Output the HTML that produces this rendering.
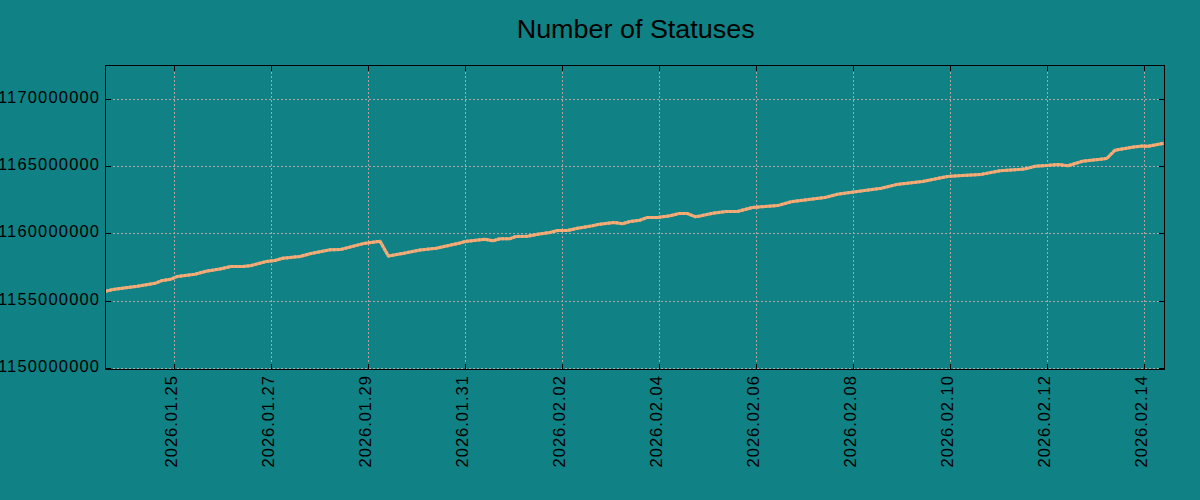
<!DOCTYPE html><html><head><meta charset="utf-8"><style>html,body{margin:0;padding:0;background:rgb(16,130,133);width:1200px;height:500px;overflow:hidden}svg{display:block}text{font-family:"Liberation Sans",sans-serif;fill:#000}</style></head><body>
<svg width="1200" height="500" viewBox="0 0 1200 500">
<rect width="1200" height="500" fill="rgb(16,130,133)"/>
<path d="M174.5 370V65M271.5 370V65M368.5 370V65M465.5 370V65M562.5 370V65M659.5 370V65M756.5 370V65M853.5 370V65M950.5 370V65M1047.5 370V65M1144.5 370V65" stroke="rgb(177,164,162)" stroke-width="1" stroke-dasharray="2 2" fill="none" shape-rendering="crispEdges"/>
<path d="M105 99.5H1164M105 166.5H1164M105 233.5H1164M105 301.5H1164M105 368.5H1164" stroke="rgb(177,164,162)" stroke-width="1" stroke-dasharray="2 2" fill="none" shape-rendering="crispEdges"/>
<path d="M105.6 291.2 L112.5 289.6 L137.5 286.2 L155 283.3 L162.5 280.45 L171 279.2 L177.5 276.45 L195 274.2 L206 271.2 L220 268.95 L231 266.45 L242.5 266.45 L250 265.8 L266.25 261.45 L275 260.45 L282.5 258.3 L300 256.45 L310 253.7 L330 249.8 L340 249.6 L364 243.4 L380 241.2 L388.4 256 L404 253.2 L420 250 L436.25 248.3 L460 242.95 L465 241.45 L485 239.3 L493 240.8 L500 238.7 L510 238.7 L516 236.45 L527.5 236.2 L537.5 234.3 L550 232.45 L557.5 230.45 L567.5 230.45 L577.5 228.3 L592.5 225.8 L597.5 224.6 L613.75 222.45 L622.5 223.7 L630 221.45 L640 220.2 L647.5 217.45 L657.5 217.45 L670 215.8 L678.75 213.6 L687.5 213.6 L695 216.7 L700 215.95 L712.5 213.3 L726.25 211.45 L737.5 211.45 L752.5 207.45 L777.5 205.6 L791.25 201.7 L825 197.45 L837.5 194.2 L850 192.45 L881.25 188.3 L896.25 184.6 L922.5 181.45 L947.5 176.45 L962.5 175.45 L980 174.6 L1000 170.7 L1024.1 169.1 L1035.4 166.2 L1046.75 165.5 L1058 164.4 L1068 165.8 L1082.5 161.2 L1106.7 158.5 L1115 150.2 L1133.3 147.1 L1142.5 146.1 L1148.3 146.3 L1163.75 143.2" stroke="rgb(226,166,122)" stroke-width="3" fill="none" stroke-linejoin="round" stroke-linecap="butt"/>
<path d="M105.6 291.2 L112.5 289.6 L137.5 286.2 L155 283.3 L162.5 280.45 L171 279.2 L177.5 276.45 L195 274.2 L206 271.2 L220 268.95 L231 266.45 L242.5 266.45 L250 265.8 L266.25 261.45 L275 260.45 L282.5 258.3 L300 256.45 L310 253.7 L330 249.8 L340 249.6 L364 243.4 L380 241.2 L388.4 256 L404 253.2 L420 250 L436.25 248.3 L460 242.95 L465 241.45 L485 239.3 L493 240.8 L500 238.7 L510 238.7 L516 236.45 L527.5 236.2 L537.5 234.3 L550 232.45 L557.5 230.45 L567.5 230.45 L577.5 228.3 L592.5 225.8 L597.5 224.6 L613.75 222.45 L622.5 223.7 L630 221.45 L640 220.2 L647.5 217.45 L657.5 217.45 L670 215.8 L678.75 213.6 L687.5 213.6 L695 216.7 L700 215.95 L712.5 213.3 L726.25 211.45 L737.5 211.45 L752.5 207.45 L777.5 205.6 L791.25 201.7 L825 197.45 L837.5 194.2 L850 192.45 L881.25 188.3 L896.25 184.6 L922.5 181.45 L947.5 176.45 L962.5 175.45 L980 174.6 L1000 170.7 L1024.1 169.1 L1035.4 166.2 L1046.75 165.5 L1058 164.4 L1068 165.8 L1082.5 161.2 L1106.7 158.5 L1115 150.2 L1133.3 147.1 L1142.5 146.1 L1148.3 146.3 L1163.75 143.2" stroke="rgb(250,172,116)" stroke-width="3" stroke-dasharray="2.6 1.4" fill="none" stroke-linejoin="round" stroke-linecap="butt"/>
<g fill="#000" shape-rendering="crispEdges"><rect x="105" y="65" width="1060" height="1"/><rect x="105" y="369" width="1060" height="1"/><rect x="105" y="65" width="1" height="305"/><rect x="1164" y="65" width="1" height="305"/><rect x="174" y="66" width="1" height="5"/><rect x="174" y="364" width="1" height="5"/><rect x="271" y="66" width="1" height="5"/><rect x="271" y="364" width="1" height="5"/><rect x="368" y="66" width="1" height="5"/><rect x="368" y="364" width="1" height="5"/><rect x="465" y="66" width="1" height="5"/><rect x="465" y="364" width="1" height="5"/><rect x="562" y="66" width="1" height="5"/><rect x="562" y="364" width="1" height="5"/><rect x="659" y="66" width="1" height="5"/><rect x="659" y="364" width="1" height="5"/><rect x="756" y="66" width="1" height="5"/><rect x="756" y="364" width="1" height="5"/><rect x="853" y="66" width="1" height="5"/><rect x="853" y="364" width="1" height="5"/><rect x="950" y="66" width="1" height="5"/><rect x="950" y="364" width="1" height="5"/><rect x="1047" y="66" width="1" height="5"/><rect x="1047" y="364" width="1" height="5"/><rect x="1144" y="66" width="1" height="5"/><rect x="1144" y="364" width="1" height="5"/><rect x="106" y="99" width="5" height="1"/><rect x="1159" y="99" width="5" height="1"/><rect x="106" y="166" width="5" height="1"/><rect x="1159" y="166" width="5" height="1"/><rect x="106" y="233" width="5" height="1"/><rect x="1159" y="233" width="5" height="1"/><rect x="106" y="301" width="5" height="1"/><rect x="1159" y="301" width="5" height="1"/><rect x="106" y="368" width="5" height="1"/><rect x="1159" y="368" width="5" height="1"/></g>
<text x="635.7" y="37.8" font-size="25.6" text-anchor="middle" textLength="238" lengthAdjust="spacingAndGlyphs">Number of Statuses</text>
<text x="99" y="102.9" font-size="16.5" text-anchor="end" textLength="101" lengthAdjust="spacing">1170000000</text>
<text x="99" y="169.9" font-size="16.5" text-anchor="end" textLength="101" lengthAdjust="spacing">1165000000</text>
<text x="99" y="236.9" font-size="16.5" text-anchor="end" textLength="101" lengthAdjust="spacing">1160000000</text>
<text x="99" y="304.9" font-size="16.5" text-anchor="end" textLength="101" lengthAdjust="spacing">1155000000</text>
<text x="99" y="371.9" font-size="16.5" text-anchor="end" textLength="101" lengthAdjust="spacing">1150000000</text>
<text transform="translate(176.8 467.4) rotate(-90)" font-size="16.5" textLength="91.3" lengthAdjust="spacing">2026.01.25</text>
<text transform="translate(273.8 467.4) rotate(-90)" font-size="16.5" textLength="91.3" lengthAdjust="spacing">2026.01.27</text>
<text transform="translate(370.8 467.4) rotate(-90)" font-size="16.5" textLength="91.3" lengthAdjust="spacing">2026.01.29</text>
<text transform="translate(467.8 467.4) rotate(-90)" font-size="16.5" textLength="91.3" lengthAdjust="spacing">2026.01.31</text>
<text transform="translate(564.8 467.4) rotate(-90)" font-size="16.5" textLength="91.3" lengthAdjust="spacing">2026.02.02</text>
<text transform="translate(661.8 467.4) rotate(-90)" font-size="16.5" textLength="91.3" lengthAdjust="spacing">2026.02.04</text>
<text transform="translate(758.8 467.4) rotate(-90)" font-size="16.5" textLength="91.3" lengthAdjust="spacing">2026.02.06</text>
<text transform="translate(855.8 467.4) rotate(-90)" font-size="16.5" textLength="91.3" lengthAdjust="spacing">2026.02.08</text>
<text transform="translate(952.8 467.4) rotate(-90)" font-size="16.5" textLength="91.3" lengthAdjust="spacing">2026.02.10</text>
<text transform="translate(1049.8 467.4) rotate(-90)" font-size="16.5" textLength="91.3" lengthAdjust="spacing">2026.02.12</text>
<text transform="translate(1146.8 467.4) rotate(-90)" font-size="16.5" textLength="91.3" lengthAdjust="spacing">2026.02.14</text>
</svg></body></html>
